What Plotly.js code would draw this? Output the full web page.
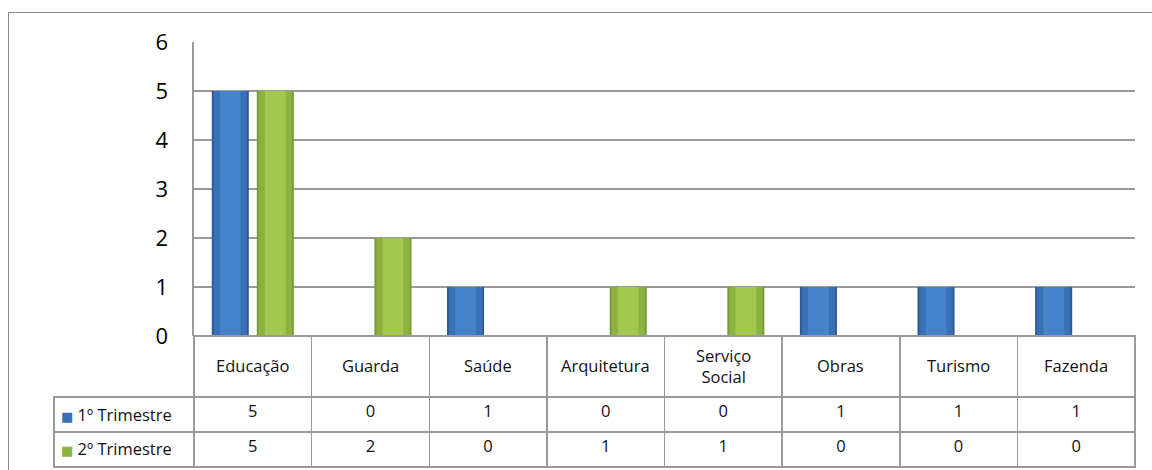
<!DOCTYPE html>
<html>
<head>
<meta charset="utf-8">
<script src="https://cdn.plot.ly/plotly-3.0.1.min.js"></script>
<style>
  html, body { margin: 0; padding: 0; width: 1152px; height: 470px; overflow: hidden; background: #fff; }
  #frame { position: absolute; left: 8px; top: 12px; width: 1300px; height: 600px;
           border-left: 1.5px solid #8c8c8c; border-top: 1.5px solid #8c8c8c; }
  #chart { position: absolute; left: 0; top: 0; width: 1152px; height: 470px; }
</style>
</head>
<body>
<div id="frame"></div>
<div id="chart"></div>
<script>
// ---- data ----
const categories = ["Educação", "Guarda", "Saúde", "Arquitetura", "Serviço Social", "Obras", "Turismo", "Fazenda"];
const categoryLabels = ["Educação", "Guarda", "Saúde", "Arquitetura", "Serviço<br>Social", "Obras", "Turismo", "Fazenda"];
const seriesNames = ["1º Trimestre", "2º Trimestre"];
const trim1 = [5, 0, 1, 0, 0, 1, 1, 1];
const trim2 = [5, 2, 0, 1, 1, 0, 0, 0];
const yTicks = [0, 1, 2, 3, 4, 5, 6];

// ---- styles ----
const blueLayers = ["#2B5A97", "#3A70B6", "#4683CD"];
const greenLayers = ["#789C35", "#8CB23F", "#A3C84E"];
const keyColors = ["#3A70B6", "#8CB23F"];
const barW = 0.315;
const offsets = [-0.349, 0.034];

function layeredBars(vals, offset, colors, name) {
  const insets = [0, 0.05, 0.22];
  return colors.map((c, i) => {
    const w = barW * (1 - 2 * insets[i]);
    return {
      type: "bar", x: categories, y: vals, name: name,
      width: vals.map(() => w),
      offset: vals.map(() => offset + barW * insets[i]),
      marker: { color: c, line: { width: 0 } },
      hoverinfo: "skip", showlegend: false
    };
  });
}

const traces = [
  ...layeredBars(trim1, offsets[0], blueLayers, seriesNames[0]),
  ...layeredBars(trim2, offsets[1], greenLayers, seriesNames[1])
];

const gridC = "#9a9a9a";
const fontFam = "Open Sans, DejaVu Sans, sans-serif";
const fs = 16.5;
const tableCols = [["", ""]];
for (let i = 0; i < categories.length; i++) tableCols.push([String(trim1[i]), String(trim2[i])]);

const headerLine = ["rgba(0,0,0,0)"].concat(categories.map(() => gridC));
const headerFill = ["rgba(0,0,0,0)"].concat(categories.map(() => "rgba(0,0,0,0)"));

traces.push({
  type: "table",
  domain: { x: [0, 1], y: [0, 0.3131] },
  columnwidth: [140].concat(categories.map(() => 117.6)),
  header: {
    values: [""].concat(categories.map(() => "")),
    height: 61,
    align: "center",
    fill: { color: headerFill },
    line: { color: headerLine, width: 1.5 },
    font: { family: fontFam, size: fs, color: "#111" }
  },
  cells: {
    values: tableCols,
    height: 35,
    align: ["left", "center"],
    fill: { color: "rgba(0,0,0,0)" },
    line: { color: gridC, width: 1.5 },
    font: { family: fontFam, size: fs, color: "#111" }
  }
});

const annotations = categories.map((c, i) => ({
  x: c, xref: "x", y: 0.243, yref: "paper",
  text: categoryLabels[i], showarrow: false,
  xanchor: "center", yanchor: "middle", align: "center",
  font: { family: fontFam, size: fs, color: "#111" }
}));
const rowY = [0.1308, 0.0491];
seriesNames.forEach((s, i) => {
  annotations.push({
    x: 0.0045, xref: "paper", y: rowY[i], yref: "paper",
    text: '<span style="color:' + keyColors[i] + ';font-size:13px">■</span> ' + s,
    showarrow: false, xanchor: "left", yanchor: "middle", align: "left",
    font: { family: fontFam, size: fs, color: "#111" }
  });
});

const layout = {
  width: 1152, height: 470,
  margin: { l: 54, r: 17, t: 42, b: 0 },
  paper_bgcolor: "rgba(0,0,0,0)",
  plot_bgcolor: "rgba(0,0,0,0)",
  barmode: "overlay",
  showlegend: false,
  annotations: annotations,
  xaxis: {
    domain: [0.1295, 1], type: "category", range: [-0.5, 7.5],
    showticklabels: false, showgrid: false, zeroline: false, showline: false, fixedrange: true
  },
  yaxis: {
    domain: [0.3131, 1], range: [0, 6], tickvals: yTicks, ticktext: yTicks.map(String),
    showgrid: true, gridcolor: gridC, gridwidth: 1.5,
    showline: true, linecolor: gridC, linewidth: 1.5,
    zeroline: false, ticks: "", ticklabelstandoff: 20,
    tickfont: { family: fontFam, size: 22, color: "#000" },
    fixedrange: true
  }
};

Plotly.newPlot("chart", traces, layout, { displayModeBar: false, staticPlot: true });
</script>
</body>
</html>
